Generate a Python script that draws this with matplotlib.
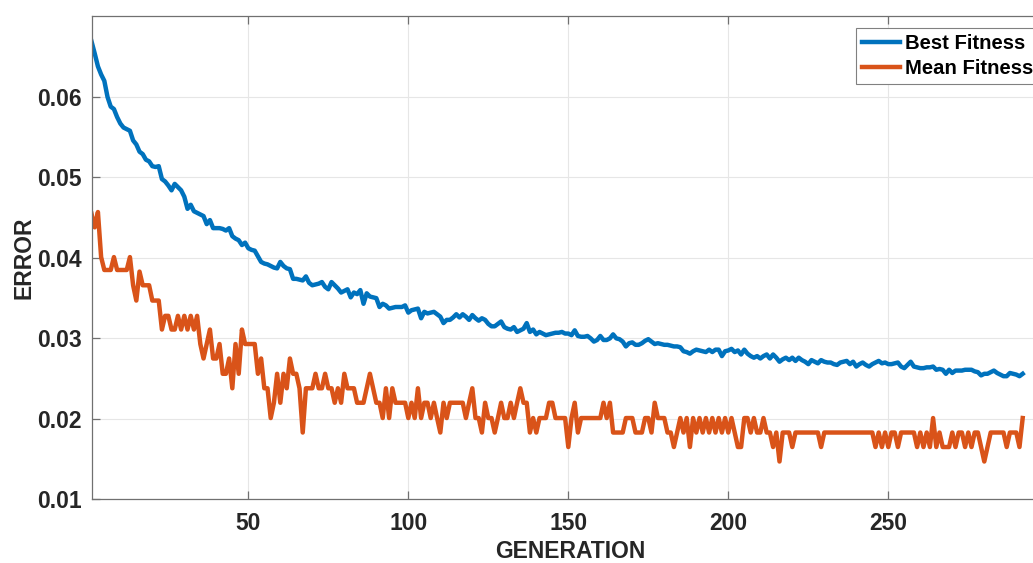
import matplotlib
matplotlib.use("Agg")
import matplotlib.pyplot as plt

# error per generation
best_fitness = [
    0.0669, 0.0654, 0.0638, 0.0628, 0.0620, 0.0600, 0.0588, 0.0585, 0.0575, 0.0567,
    0.0562, 0.0560, 0.0558, 0.0546, 0.0541, 0.0532, 0.0529, 0.0522, 0.0520, 0.0514,
    0.0513, 0.0514, 0.0498, 0.0495, 0.0490, 0.0484, 0.0492, 0.0488, 0.0484, 0.0476,
    0.0461, 0.0466, 0.0458, 0.0456, 0.0454, 0.0452, 0.0442, 0.0447, 0.0437, 0.0437,
    0.0437, 0.0436, 0.0434, 0.0437, 0.0427, 0.0424, 0.0422, 0.0416, 0.0419, 0.0412,
    0.0410, 0.0409, 0.0402, 0.0395, 0.0393, 0.0392, 0.0390, 0.0388, 0.0387, 0.0395,
    0.0390, 0.0387, 0.0386, 0.0374, 0.0374, 0.0373, 0.0372, 0.0377, 0.0369, 0.0366,
    0.0367, 0.0368, 0.0370, 0.0364, 0.0361, 0.0370, 0.0366, 0.0362, 0.0357, 0.0359,
    0.0361, 0.0351, 0.0357, 0.0355, 0.0360, 0.0343, 0.0356, 0.0352, 0.0351, 0.0350,
    0.0339, 0.0343, 0.0341, 0.0337, 0.0338, 0.0339, 0.0339, 0.0339, 0.0341, 0.0332,
    0.0335, 0.0336, 0.0337, 0.0325, 0.0333, 0.0331, 0.0332, 0.0333, 0.0330, 0.0327,
    0.0319, 0.0323, 0.0323, 0.0326, 0.0330, 0.0326, 0.0330, 0.0327, 0.0323, 0.0329,
    0.0325, 0.0322, 0.0325, 0.0323, 0.0318, 0.0315, 0.0315, 0.0318, 0.0321, 0.0314,
    0.0312, 0.0311, 0.0314, 0.0308, 0.0310, 0.0312, 0.0319, 0.0308, 0.0311, 0.0305,
    0.0308, 0.0306, 0.0304, 0.0305, 0.0306, 0.0307, 0.0307, 0.0308, 0.0306, 0.0306,
    0.0304, 0.0310, 0.0303, 0.0302, 0.0302, 0.0303, 0.0300, 0.0296, 0.0298, 0.0303,
    0.0298, 0.0298, 0.0300, 0.0305, 0.0300, 0.0299, 0.0296, 0.0290, 0.0294, 0.0295,
    0.0292, 0.0292, 0.0294, 0.0297, 0.0299, 0.0296, 0.0293, 0.0294, 0.0293, 0.0292,
    0.0292, 0.0291, 0.0290, 0.0290, 0.0289, 0.0284, 0.0283, 0.0281, 0.0284, 0.0286,
    0.0285, 0.0284, 0.0283, 0.0286, 0.0283, 0.0286, 0.0286, 0.0278, 0.0284, 0.0285,
    0.0287, 0.0283, 0.0285, 0.0280, 0.0286, 0.0281, 0.0278, 0.0276, 0.0278, 0.0275,
    0.0278, 0.0280, 0.0275, 0.0280, 0.0276, 0.0271, 0.0274, 0.0276, 0.0273, 0.0276,
    0.0272, 0.0276, 0.0273, 0.0271, 0.0268, 0.0273, 0.0271, 0.0269, 0.0273, 0.0271,
    0.0270, 0.0270, 0.0268, 0.0267, 0.0270, 0.0271, 0.0272, 0.0268, 0.0271, 0.0265,
    0.0268, 0.0270, 0.0267, 0.0265, 0.0268, 0.0270, 0.0272, 0.0269, 0.0270, 0.0268,
    0.0268, 0.0269, 0.0270, 0.0265, 0.0263, 0.0267, 0.0271, 0.0265, 0.0264, 0.0263,
    0.0263, 0.0264, 0.0264, 0.0265, 0.0261, 0.0262, 0.0261, 0.0256, 0.0261, 0.0257,
    0.0260, 0.0260, 0.0260, 0.0261, 0.0261, 0.0261, 0.0259, 0.0258, 0.0254, 0.0256,
    0.0256, 0.0258, 0.0260, 0.0257, 0.0255, 0.0253, 0.0253, 0.0257, 0.0256, 0.0255,
    0.0253, 0.0256,
]

mean_fitness = [
    0.0455, 0.0438, 0.0457, 0.0401, 0.0385, 0.0385, 0.0385, 0.0401, 0.0385, 0.0385,
    0.0385, 0.0385, 0.0401, 0.0366, 0.0347, 0.0383, 0.0366, 0.0366, 0.0366, 0.0347,
    0.0347, 0.0347, 0.0311, 0.0328, 0.0328, 0.0311, 0.0311, 0.0328, 0.0311, 0.0328,
    0.0311, 0.0328, 0.0311, 0.0328, 0.0293, 0.0275, 0.0293, 0.0311, 0.0275, 0.0275,
    0.0293, 0.0256, 0.0256, 0.0275, 0.0238, 0.0293, 0.0256, 0.0311, 0.0293, 0.0293,
    0.0293, 0.0293, 0.0256, 0.0275, 0.0238, 0.0238, 0.0201, 0.0220, 0.0256, 0.0220,
    0.0256, 0.0238, 0.0275, 0.0256, 0.0256, 0.0238, 0.0183, 0.0238, 0.0238, 0.0238,
    0.0256, 0.0238, 0.0238, 0.0256, 0.0238, 0.0238, 0.0220, 0.0238, 0.0220, 0.0256,
    0.0238, 0.0238, 0.0238, 0.0220, 0.0220, 0.0220, 0.0238, 0.0256, 0.0238, 0.0220,
    0.0220, 0.0201, 0.0238, 0.0201, 0.0238, 0.0220, 0.0220, 0.0220, 0.0220, 0.0201,
    0.0220, 0.0201, 0.0238, 0.0201, 0.0220, 0.0220, 0.0201, 0.0220, 0.0201, 0.0183,
    0.0220, 0.0201, 0.0220, 0.0220, 0.0220, 0.0220, 0.0220, 0.0201, 0.0220, 0.0238,
    0.0201, 0.0201, 0.0183, 0.0220, 0.0201, 0.0201, 0.0183, 0.0201, 0.0220, 0.0201,
    0.0201, 0.0220, 0.0201, 0.0220, 0.0238, 0.0220, 0.0220, 0.0183, 0.0201, 0.0183,
    0.0201, 0.0201, 0.0201, 0.0220, 0.0220, 0.0201, 0.0201, 0.0201, 0.0201, 0.0165,
    0.0201, 0.0220, 0.0183, 0.0201, 0.0201, 0.0201, 0.0201, 0.0201, 0.0201, 0.0201,
    0.0220, 0.0201, 0.0220, 0.0183, 0.0183, 0.0183, 0.0183, 0.0201, 0.0201, 0.0201,
    0.0183, 0.0183, 0.0183, 0.0201, 0.0201, 0.0183, 0.0220, 0.0201, 0.0201, 0.0201,
    0.0183, 0.0183, 0.0165, 0.0183, 0.0201, 0.0183, 0.0201, 0.0165, 0.0201, 0.0183,
    0.0201, 0.0183, 0.0201, 0.0183, 0.0201, 0.0183, 0.0201, 0.0183, 0.0201, 0.0183,
    0.0201, 0.0183, 0.0165, 0.0165, 0.0201, 0.0201, 0.0183, 0.0201, 0.0183, 0.0183,
    0.0201, 0.0183, 0.0183, 0.0165, 0.0183, 0.0147, 0.0183, 0.0183, 0.0183, 0.0165,
    0.0183, 0.0183, 0.0183, 0.0183, 0.0183, 0.0183, 0.0183, 0.0183, 0.0165, 0.0183,
    0.0183, 0.0183, 0.0183, 0.0183, 0.0183, 0.0183, 0.0183, 0.0183, 0.0183, 0.0183,
    0.0183, 0.0183, 0.0183, 0.0183, 0.0183, 0.0165, 0.0183, 0.0165, 0.0183, 0.0165,
    0.0183, 0.0183, 0.0165, 0.0183, 0.0183, 0.0183, 0.0183, 0.0183, 0.0165, 0.0183,
    0.0165, 0.0183, 0.0165, 0.0201, 0.0165, 0.0183, 0.0165, 0.0165, 0.0165, 0.0183,
    0.0165, 0.0183, 0.0183, 0.0165, 0.0183, 0.0165, 0.0183, 0.0183, 0.0165, 0.0147,
    0.0165, 0.0183, 0.0183, 0.0183, 0.0183, 0.0183, 0.0165, 0.0183, 0.0183, 0.0183,
    0.0165, 0.0201,
]

generations = list(range(1, len(best_fitness) + 1))

x_ticks = [50, 100, 150, 200, 250]
y_ticks = [0.01, 0.02, 0.03, 0.04, 0.05, 0.06]

plt.rcParams["font.family"] = ["Liberation Sans", "DejaVu Sans"]
plt.rcParams["font.weight"] = "bold"

fig = plt.figure(figsize=(10.33, 5.63), dpi=100)
# axes run past the right edge on purpose: the original picture is cropped there
ax = fig.add_axes([0.0886, 0.1131, 0.9262, 0.8576])

ax.plot(generations, best_fitness, color="#0072BD", lw=3.2, label="Best Fitness")
ax.plot(generations, mean_fitness, color="#D95319", lw=3.2, label="Mean Fitness")

ax.set_xlim(1, 300)
ax.set_ylim(0.01, 0.07)
ax.set_xticks(x_ticks)
ax.set_yticks(y_ticks)
ax.set_yticklabels([f"{v:.2f}" for v in y_ticks])

ax.grid(True, color="#e6e6e6", lw=0.8)
ax.set_axisbelow(True)
for s in ax.spines.values():
    s.set_color("#707070")
    s.set_linewidth(0.9)
ax.tick_params(direction="in", length=6, width=0.9, color="#707070",
               labelsize=16.5, labelcolor="#262626", top=True, right=True)
ax.tick_params(axis="y", pad=7)
ax.tick_params(axis="x", pad=9)

ax.set_xlabel("GENERATION", fontsize=16.5, fontweight="bold", color="#262626", labelpad=4)
ax.set_ylabel("ERROR", fontsize=16.5, fontweight="bold", color="#262626", labelpad=1)

leg = ax.legend(loc="upper left", bbox_to_anchor=(0.799, 0.976), fontsize=14.6,
                handlelength=1.85, handletextpad=0.25, borderpad=0.3,
                labelspacing=0.3, borderaxespad=0, fancybox=False,
                framealpha=1, edgecolor="#808080")
leg.get_frame().set_linewidth(0.8)
for t in leg.get_texts():
    t.set_fontweight("bold")

fig.savefig("out.png", dpi=100)
